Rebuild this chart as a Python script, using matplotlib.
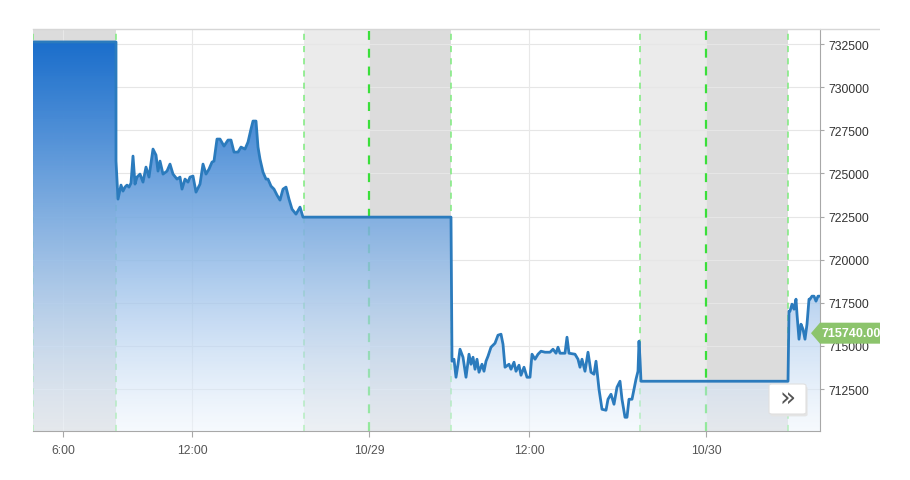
import numpy as np
import matplotlib

matplotlib.use("Agg")
import matplotlib.pyplot as plt  # noqa: E402
from matplotlib.lines import Line2D  # noqa: E402
from matplotlib.patches import Polygon, FancyBboxPatch, Rectangle  # noqa: E402

# time in ~4-minute ordinal slots (gaps between sessions are compressed)
slots = [
    0, 83, 83, 85, 88, 90, 92, 94, 96, 98, 100, 102, 104, 107, 110, 113, 116,
    120, 123, 125, 127, 130, 134, 137, 140, 144, 147, 149, 152, 155, 157, 160,
    163, 167, 170, 173, 176, 179, 181, 184, 187, 191, 195, 198, 201, 205, 208,
    212, 215, 218, 220, 223, 225, 227, 230, 233, 235, 238, 241, 244, 247, 250,
    253, 256, 259, 263, 267, 270, 418,
    419, 421, 423, 425, 427, 430, 433, 436, 438, 440, 442, 444, 446, 449, 451,
    453, 455, 458, 462, 465, 468, 470, 472, 476, 478, 481, 483, 486, 488, 491,
    494, 497, 499, 502, 505, 508, 512, 517, 520, 523, 525, 527, 532, 534, 536,
    542, 545, 547, 549, 552, 555, 558, 561, 563, 566, 569, 573, 575, 578, 581,
    584, 587, 589, 592, 594, 596, 599, 601, 603, 605, 606, 607, 608, 755,
    756, 757, 759, 761, 763, 764, 766, 768, 770, 772, 774, 776, 777, 779, 781,
    783, 785, 787,
]
prices = [
    732620, 732620, 725714, 723510, 724322, 723974, 724206, 724322, 724206,
    724438, 726004, 724380, 724786, 724960, 724496, 725366, 724786, 726410,
    726062, 725134, 725714, 724960, 725134, 725540, 724960, 724670, 724786,
    724090, 724670, 724496, 724786, 724844, 723916, 724380, 725540, 724960,
    725250, 725656, 725714, 726990, 726990, 726584, 726932, 726932, 726236,
    726236, 726526, 726410, 726816, 727570, 728034, 728034, 726526, 725830,
    725076, 724670, 724670, 724264, 724090, 723742, 723452, 724090, 724206,
    723510, 722930, 722640, 723046, 722466, 722466,
    714114, 714230, 713186, 713940, 714810, 714346, 713186, 714520, 713940,
    714346, 713650, 714230, 713476, 713940, 713534, 714114, 714404, 714926,
    715158, 715622, 715680, 715100, 713766, 713940, 713650, 714056, 713534,
    713882, 713302, 713766, 713186, 713186, 714520, 714230, 714520, 714694,
    714636, 714636, 714810, 714578, 714926, 714578, 714578, 715506, 714578,
    714520, 714230, 713766, 714230, 713534, 714636, 713476, 713360, 714114,
    712490, 711330, 711272, 711910, 712200, 711620, 712606, 712954, 711910,
    710866, 710866, 711910, 711910, 712490, 713070, 713534, 715274, 714230,
    712954, 712954,
    717014, 717014, 717420, 717130, 717710, 716840, 715390, 716260, 715970,
    715390, 716260, 717710, 717710, 717884, 717884, 717594, 717884, 717884,
]

tick_slots = [30, 159, 336, 496, 673]
tick_labels = ["6:00", "12:00", "10/29", "12:00", "10/30"]
y_ticks = [712500, 715000, 717500, 720000, 722500, 725000, 727500, 730000, 732500]

# non-trading bands: (start, end, colour)
bands = [(0, 83, "#dcdcdc"), (271, 336, "#ebebeb"), (336, 418, "#dcdcdc"),
         (607, 673, "#ebebeb"), (673, 755, "#dcdcdc")]
session_lines = [0, 83, 271, 418, 607, 755]
day_lines = [336, 673]
last_price = 715740.00

X0, X1 = 0, 787
Y0, Y1 = 710070, 733370

W, H = 910, 481
fig = plt.figure(figsize=(W / 100, H / 100), dpi=100)
ax = fig.add_axes([33 / W, 1 - 432 / H, 787 / W, 402 / H])
ax.set_xlim(X0, X1)
ax.set_ylim(Y0, Y1)

for a, b, c in bands:
    ax.axvspan(a, b, color=c, lw=0, zorder=0)
for v in y_ticks:
    ax.axhline(v, color="#e6e6e6", lw=0.8, zorder=0.5)
for v in tick_slots:
    ax.axvline(v, color="#e8e8e8", lw=0.8, zorder=0.5)
for v in session_lines:
    ax.axvline(v, color="#7deb7d", lw=1.1, ls=(0, (4, 4)), zorder=1)
for v in day_lines:
    ax.axvline(v, color="#3adf3a", lw=1.6, ls=(0, (4, 4)), zorder=1)

x = np.array(slots, dtype=float)
y = np.array(prices, dtype=float)

# gradient area under the line: dark blue at top fading to a pale, half-see-through blue
poly = ax.fill_between(x, y, Y0, facecolor="none", edgecolor="none", zorder=2)
top = y.max()
t = np.linspace(0, 1, 256)[:, None]
c_top = np.array([26, 110, 203]) / 255
c_bot = np.array([238, 245, 253]) / 255
grad = np.zeros((256, 1, 4))
grad[..., :3] = c_top * (1 - t[..., None]) + c_bot * t[..., None]
grad[..., 3] = 1 - 0.5 * t ** 2
im = ax.imshow(grad, extent=[X0, X1, Y0, top], origin="upper", aspect="auto",
               zorder=2, interpolation="bilinear")
im.set_clip_path(poly.get_paths()[0], transform=ax.transData)
ax.set_xlim(X0, X1)
ax.set_ylim(Y0, Y1)

ax.plot(x, y, color="#2b7bbd", lw=2.0, solid_joinstyle="round", zorder=3)

# axes styling
for s in ("left", "top"):
    ax.spines[s].set_visible(False)
ax.spines["right"].set_color("#a8a8a8")
ax.spines["bottom"].set_color("#a8a8a8")
ax.yaxis.tick_right()
ax.set_yticks(y_ticks)
ax.set_yticklabels([str(v) for v in y_ticks])
ax.set_xticks(tick_slots)
ax.set_xticklabels(tick_labels)
ax.tick_params(axis="y", length=3, width=0.8, color="#a8a8a8", pad=3,
               labelsize=8.8, labelcolor="#333333")
ax.tick_params(axis="x", length=4, width=0.8, color="#a8a8a8", pad=5,
               labelsize=8.8, labelcolor="#555555")
for lab in ax.get_xticklabels() + ax.get_yticklabels():
    lab.set_fontfamily("Liberation Sans")

# top border line, runs past the axis
fig.add_artist(Line2D([33 / W, 880 / W], [1 - 30 / H, 1 - 30 / H],
                      color="#d6d6d6", lw=1))

# last price tag
ty = last_price
dy = (Y1 - Y0) * 10.5 / 402
tag = Polygon([(X1 - 9, ty), (X1, ty + dy), (X1 + 70, ty + dy),
               (X1 + 70, ty - dy), (X1, ty - dy)], closed=True,
              facecolor="#8cc46c", edgecolor="none", clip_on=False, zorder=5)
ax.add_patch(tag)
ax.text(X1 + 2, ty, f"{last_price:.2f}", color="white", fontsize=9,
        fontweight="bold", family="Liberation Sans", va="center", ha="left",
        clip_on=False, zorder=6)

# navigation button
bx0, by0 = (769 - 33) / 787, (432 - 415) / 402
bw, bh = 37 / 787, 30 / 402
ax.add_patch(FancyBboxPatch((bx0 + 0.002, by0 - 0.006), bw, bh,
                            boxstyle="round,pad=0,rounding_size=0.004",
                            transform=ax.transAxes, facecolor="#e4e4e4",
                            edgecolor="none", zorder=6))
ax.add_patch(FancyBboxPatch((bx0, by0), bw, bh,
                            boxstyle="round,pad=0,rounding_size=0.004",
                            transform=ax.transAxes, facecolor="white",
                            edgecolor="#e0e0e0", lw=0.8, zorder=7))
ax.text(bx0 + bw / 2, by0 + bh / 2, "\u00bb", transform=ax.transAxes,
        ha="center", va="center", fontsize=19, color="#555555",
        family="DejaVu Sans", zorder=8)

# chart container ends at 880px
fig.add_artist(Rectangle((880 / W, 0), 30 / W, 1, transform=fig.transFigure,
                         facecolor="white", edgecolor="none", zorder=20))

fig.savefig("out.png", dpi=100)
